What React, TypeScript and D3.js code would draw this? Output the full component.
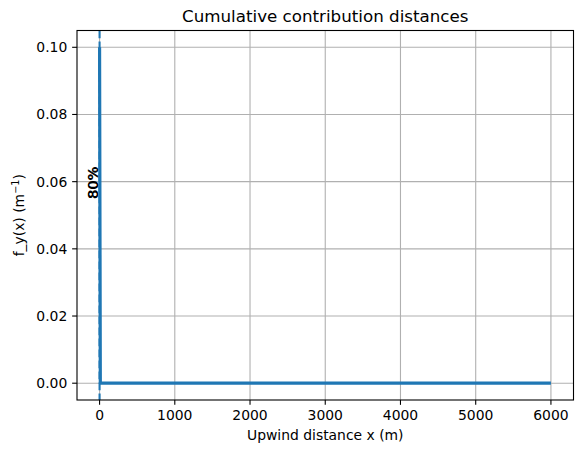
import React from "react";
import * as d3 from "d3";

const distances = [0, 10, 50, 100, 500, 1000, 2000, 3000, 4000, 5000, 6000];
const footprint = [0.1, 0, 0, 0, 0, 0, 0, 0, 0, 0, 0];
const markerX = [0];
const markerLabels = ["80%"];
const markerLabelY = [0.0548];
const xTicks = [0, 1000, 2000, 3000, 4000, 5000, 6000];
const yTicks = [0, 0.02, 0.04, 0.06, 0.08, 0.1];

const W = 583;
const H = 453;
const L = 77, R = 573.5, T = 30.5, B = 400;
const BLUE = "#1f77b4";
const FONT = "DejaVu Sans, sans-serif";

export default function App() {
  const x = d3.scaleLinear().domain([-300, 6300]).range([L, R]);
  const y = d3.scaleLinear().domain([-0.005, 0.105]).range([B, T]);
  const line = d3
    .line<number>()
    .x((_, i) => x(distances[i]))
    .y((d) => y(d));
  return (
    <svg
      width={W}
      height={H}
      style={{ position: "absolute", left: 0, top: 0 }}
      fontFamily={FONT}
    >
      <rect x={0} y={0} width={W} height={H} fill="white" />
      {xTicks.map((t) => (
        <line key={"gx" + t} x1={x(t)} x2={x(t)} y1={T} y2={B} stroke="#b0b0b0" strokeWidth={1.1} />
      ))}
      {yTicks.map((t) => (
        <line key={"gy" + t} x1={L} x2={R} y1={y(t)} y2={y(t)} stroke="#b0b0b0" strokeWidth={1.1} />
      ))}
      <defs>
        <clipPath id="clip">
          <rect x={L} y={T} width={R - L} height={B - T} />
        </clipPath>
      </defs>
      <g clipPath="url(#clip)">
        {markerX.map((m, i) => (
          <line
            key={"m" + i}
            x1={x(m)}
            x2={x(m)}
            y1={T}
            y2={B}
            stroke={BLUE}
            strokeWidth={2.08}
            strokeDasharray="7.7,3.3"
          />
        ))}
        <path d={line(footprint) || ""} fill="none" stroke={BLUE} strokeWidth={3.2} strokeLinejoin="round" />
      </g>
      {markerX.map((m, i) => (
        <g key={"t" + i}>
          <text
            transform={`translate(${x(m) - 1.8},${y(markerLabelY[i])}) rotate(-90)`}
            fontSize={14.5}
            fill="black"
          >
            {markerLabels[i]}
          </text>
          <text
            transform={`translate(${x(m) - 1.2},${y(markerLabelY[i]) - 0.6}) rotate(-90)`}
            fontSize={14.5}
            fill="black"
          >
            {markerLabels[i]}
          </text>
        </g>
      ))}
      <rect x={L} y={T} width={R - L} height={B - T} fill="none" stroke="black" strokeWidth={1.1} />
      {xTicks.map((t) => (
        <g key={"xt" + t}>
          <line x1={x(t)} x2={x(t)} y1={B} y2={B + 4.86} stroke="black" strokeWidth={1.1} />
          <text x={x(t)} y={B + 20.2} textAnchor="middle" fontSize={13.9}>
            {String(t)}
          </text>
        </g>
      ))}
      {yTicks.map((t) => (
        <g key={"yt" + t}>
          <line x1={L - 4.86} x2={L} y1={y(t)} y2={y(t)} stroke="black" strokeWidth={1.1} />
          <text x={L - 9.7} y={y(t)} dy="0.36em" textAnchor="end" fontSize={13.9}>
            {d3.format(".2f")(t)}
          </text>
        </g>
      ))}
      <text x={(L + R) / 2} y={440} textAnchor="middle" fontSize={13.9}>
        Upwind distance x (m)
      </text>
      <text
        transform={`translate(24,${(T + B) / 2}) rotate(-90)`}
        textAnchor="middle"
        fontSize={13.9}
      >
        f_y(x) (m
        <tspan dy={-5} fontSize={9.7}>−1</tspan>
        <tspan dy={5}>)</tspan>
      </text>
      <text x={(L + R) / 2} y={22} textAnchor="middle" fontSize={16.7}>
        Cumulative contribution distances
      </text>
    </svg>
  );
}
